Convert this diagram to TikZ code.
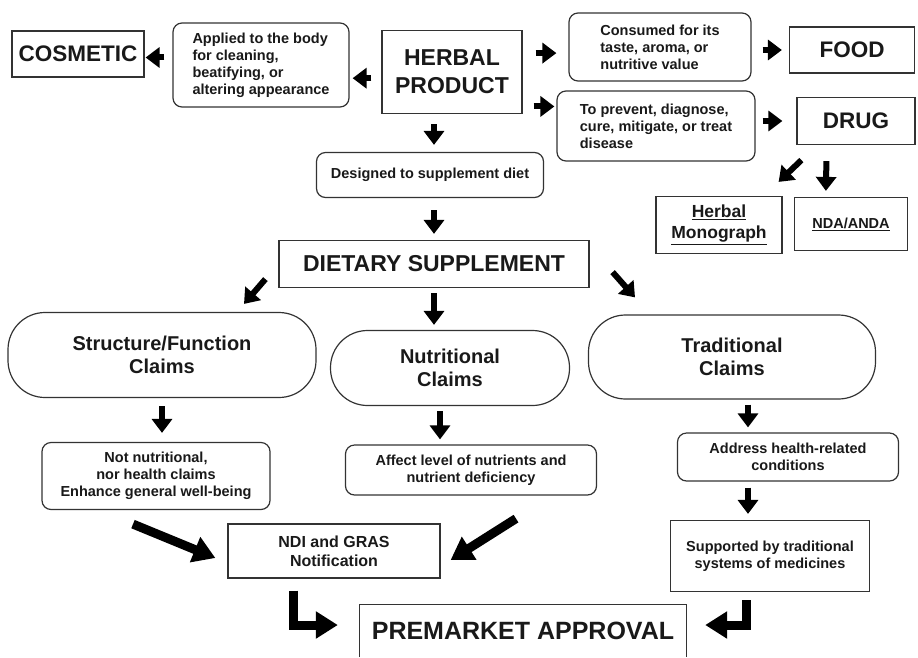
\documentclass[tikz,border=0pt]{standalone}
\usepackage{fontspec}
\setmainfont{Liberation Sans}
\usetikzlibrary{arrows.meta,calc,positioning}

\begin{document}
\begin{tikzpicture}[x=1pt, y=-1pt,
    every node/.style={text=black!90, align=center},
    box/.style={draw=black!80, line width=1.2pt, inner sep=3pt},
    rbox/.style={box, rounded corners=9pt},
    pill/.style={box, rounded corners=37pt},
    big/.style={font=\fontsize{22.5}{27}\selectfont\bfseries},
    body/.style={font=\fontsize{14.5}{17}\selectfont\bfseries},
    claim/.style={font=\fontsize{20}{23.5}\selectfont\bfseries},
    blk/.style={line width=6pt, -{Triangle[length=14pt, width=20pt]}},
    fat/.style={line width=9pt, -{Triangle[length=22pt, width=26pt]}}]
    \useasboundingbox (0, 0) rectangle (918, 657);

    % top row
    \node(cosmetic) at (78, 54)[box, big, minimum width=132pt, minimum height=46pt]{COSMETIC};
    \node(applied) at (261, 65)[rbox, body, align=left, minimum width=176pt, minimum height=84pt]{Applied to the body\\for cleaning,\\beatifying, or\\altering appearance};
    \node(herbal) at (452, 72)[box, font=\fontsize{23}{28}\selectfont\bfseries, minimum width=140pt, minimum height=83pt]{HERBAL\\PRODUCT};
    \node(consumed) at (660, 47)[rbox, body, align=left, minimum width=182pt, minimum height=68pt]{Consumed for its\\taste, aroma, or\\nutritive value};
    \node(food) at (852, 50)[box, big, minimum width=125pt, minimum height=46pt]{FOOD};
    \node(prevent) at (656, 126)[rbox, body, align=left, minimum width=198pt, minimum height=70pt]{To prevent, diagnose,\\cure, mitigate, or treat\\disease};
    \node(drug) at (856, 121)[box, big, minimum width=118pt, minimum height=47pt]{DRUG};
    \node(designed) at (430, 175)[rbox, body, minimum width=227pt, minimum height=45pt]{Designed to supplement diet};
    \node(monograph) at (719, 225)[box, font=\fontsize{17.5}{21}\selectfont\bfseries, minimum width=126pt, minimum height=57pt]{\underline{Herbal}\\\underline{Monograph}};
    \node(nda) at (851, 224)[box, body, minimum width=113pt, minimum height=53pt]{\underline{NDA/ANDA}};

    % supplement branch
    \node(dietary) at (434, 264)[box, font=\fontsize{23}{27}\selectfont\bfseries, minimum width=310pt, minimum height=47pt]{DIETARY SUPPLEMENT};
    \node(structure) at (162, 355)[pill, claim, minimum width=308pt, minimum height=85pt]{Structure/Function\\Claims};
    \node(nutritional) at (450, 368)[pill, claim, minimum width=239pt, minimum height=75pt]{Nutritional\\Claims};
    \node(traditional) at (732, 357)[pill, claim, minimum width=287pt, minimum height=84pt]{Traditional\\Claims};
    \node(notnutr) at (156, 476)[rbox, body, minimum width=228pt, minimum height=67pt]{Not nutritional,\\nor health claims\\Enhance general well-being};
    \node(affect) at (471, 470)[rbox, body, minimum width=251pt, minimum height=50pt]{Affect level of nutrients and\\nutrient deficiency};
    \node(address) at (788, 457)[rbox, body, minimum width=221pt, minimum height=48pt]{Address health-related\\conditions};
    \node(ndi) at (334, 551)[box, font=\fontsize{16}{19}\selectfont\bfseries, minimum width=212pt, minimum height=54pt]{NDI and GRAS\\Notification};
    \node(supported) at (770, 556)[box, body, minimum width=199pt, minimum height=71pt]{Supported by traditional\\systems of medicines};
    \node(premarket) at (523, 631)[font=\fontsize{25}{30}\selectfont\bfseries, minimum width=326pt, minimum height=52pt]{PREMARKET APPROVAL};
    \draw[draw=black!80, line width=1.2pt] (premarket.south west) -- (premarket.north west) -- (premarket.north east) -- (premarket.south east);

    % arrows
    \draw[blk, shorten <=10pt, shorten >=3pt] (herbal.185) -- (herbal.185 -| applied.east);
    \draw[blk, shorten <=8pt, shorten >=1pt] (cosmetic.-3 -| applied.west) -- (cosmetic.-3);
    \draw[blk, shorten <=13pt, shorten >=12pt] (herbal.15) -- (herbal.15 -| consumed.west);
    \draw[blk, shorten <=11pt, shorten >=2pt] (herbal.-26) -- (herbal.-26 -| prevent.west);
    \draw[blk, shorten <=11pt, shorten >=7pt] (food.west -| consumed.east) -- (food.west);
    \draw[blk, shorten <=7pt, shorten >=14pt] (drug.west -| prevent.east) -- (drug.west);
    \draw[blk] ($(drug.south west)+(5,15)$) -- ($(monograph.north east)+(-4,-14)$);
    \draw[blk] ($(drug.south west)+(30,16)$) -- ($(nda.north west)+(32,-6)$);
    \draw[blk, shorten <=10pt, shorten >=7pt] (herbal.south -| dietary.north) -- (designed.north -| dietary.north);
    \draw[blk, shorten <=12pt, shorten >=6pt] (designed.south -| dietary.north) -- (dietary.north);
    \draw[blk] ($(dietary.south west)+(-13,-9)$) -- ($(structure.north)+(82,-8)$);
    \draw[blk, shorten <=5pt, shorten >=5pt] (dietary.south) -- (dietary.south |- nutritional.north);
    \draw[blk] ($(dietary.south east)+(23,-16)$) -- ($(traditional.north)+(-97,-17)$);
    \draw[blk, shorten <=8pt, shorten >=9pt] (structure.south) -- (structure.south |- notnutr.north);
    \draw[blk] ($(nutritional.south)+(-10,5)$) -- ($(affect.north)+(-31,-5)$);
    \draw[blk] ($(traditional.south)+(16,5)$) -- ($(address.north)+(-40,-5)$);
    \draw[blk] ($(address.south)+(-40,6)$) -- ($(supported.north)+(-22,-6)$);
    \draw[fat] ($(notnutr.south)+(-23,14)$) -- ($(ndi.west)+(-12,7)$);
    \draw[fat] ($(affect.south)+(45,23)$) -- ($(ndi.east)+(10,9)$);
    \draw[fat] ($(ndi.south)+(-41,12)$) |- ($(premarket.west)+(-22,-6)$);
    \draw[fat] ($(supported.south)+(-24,8)$) |- ($(premarket.east)+(19,-6)$);
\end{tikzpicture}
\end{document}
